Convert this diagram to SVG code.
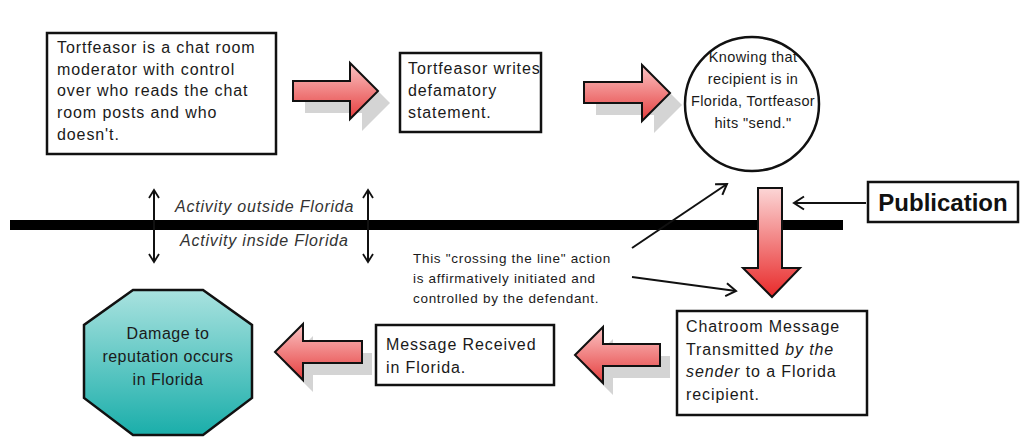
<svg xmlns="http://www.w3.org/2000/svg" width="1029" height="445" viewBox="0 0 1029 445">
<defs>
<linearGradient id="red" x1="0" y1="0" x2="0" y2="1">
<stop offset="0" stop-color="#fbc4c4"/>
<stop offset="1" stop-color="#e53e3e"/>
</linearGradient>
<linearGradient id="redv" x1="0" y1="0" x2="0" y2="1">
<stop offset="0" stop-color="#fcd6d6"/>
<stop offset="1" stop-color="#e82a2a"/>
</linearGradient>
<linearGradient id="teal" x1="0" y1="0" x2="0" y2="1">
<stop offset="0" stop-color="#a9e2df"/>
<stop offset="1" stop-color="#1aaeaa"/>
</linearGradient>
<marker id="head" viewBox="0 0 14 16" refX="12" refY="8" markerWidth="14" markerHeight="16" markerUnits="userSpaceOnUse" orient="auto-start-reverse">
<path d="M2,1.5 L12,8 L2,14.5" fill="none" stroke="#111" stroke-width="2"/>
</marker>
<marker id="headS" viewBox="0 0 12 12" refX="10" refY="6" markerWidth="12" markerHeight="12" markerUnits="userSpaceOnUse" orient="auto-start-reverse">
<path d="M2,1 L10,6 L2,11" fill="none" stroke="#111" stroke-width="1.8"/>
</marker>
</defs>
<style>
.box{fill:#fff;stroke:#111;stroke-width:2.5}
.t{font-family:"Liberation Sans",Arial,sans-serif;font-size:16px;fill:#1a1a1a;letter-spacing:0.9px}
.c{text-anchor:middle}
.it{font-family:"Liberation Sans",Arial,sans-serif;font-size:16px;font-style:italic;fill:#333;letter-spacing:0.8px}
.sm{font-family:"Liberation Sans",Arial,sans-serif;font-size:13.5px;fill:#1a1a1a;letter-spacing:0.7px}
.arr{fill:url(#red);stroke:#111;stroke-width:2;stroke-linejoin:miter}
.shadow{fill:#d4d4d4}
.ln{fill:none;stroke:#111;stroke-width:2}
</style>
<rect width="1029" height="445" fill="#fff"/>

<g id="boundary">
<rect x="10" y="220" width="833" height="10" fill="#000"/>
</g>

<g id="node-moderator">
<rect class="box" x="47" y="33" width="229" height="121"/>
<text class="t" x="57" y="53">Tortfeasor is a chat room</text>
<text class="t" x="57" y="75">moderator with control</text>
<text class="t" x="57" y="96">over who reads the chat</text>
<text class="t" x="57" y="118">room posts and who</text>
<text class="t" x="57" y="140">doesn't.</text>
</g>

<g id="node-writes">
<rect class="box" x="400" y="53" width="141" height="79"/>
<text class="t" x="408" y="74">Tortfeasor writes</text>
<text class="t" x="408" y="96">defamatory</text>
<text class="t" x="408" y="118">statement.</text>
</g>

<g id="node-send">
<circle cx="752" cy="104" r="67" fill="#fff" stroke="#111" stroke-width="2.5"/>
<text class="t c" x="753" y="62" style="font-size:14.5px;letter-spacing:0.4px">Knowing that</text>
<text class="t c" x="753" y="84" style="font-size:14.5px;letter-spacing:0.4px">recipient is in</text>
<text class="t c" x="753" y="106" style="font-size:14.5px;letter-spacing:0.4px">Florida, Tortfeasor</text>
<text class="t c" x="753" y="128" style="font-size:14.5px;letter-spacing:0.4px">hits "send."</text>
</g>

<g id="node-publication">
<rect class="box" x="868" y="182" width="150" height="40"/>
<text x="943" y="211" text-anchor="middle" style="font-family:'Liberation Sans',Arial,sans-serif;font-size:24px;font-weight:bold;fill:#111">Publication</text>
</g>

<g id="node-transmitted">
<rect class="box" x="677" y="311" width="190" height="104"/>
<text class="t" x="686" y="332">Chatroom Message</text>
<text class="t" x="686" y="355">Transmitted <tspan font-style="italic">by the</tspan></text>
<text class="t" x="686" y="377"><tspan font-style="italic">sender</tspan> to a Florida</text>
<text class="t" x="686" y="400">recipient.</text>
</g>

<g id="node-received">
<rect class="box" x="376" y="325" width="178" height="60"/>
<text class="t" x="386" y="350">Message Received</text>
<text class="t" x="386" y="373">in Florida.</text>
</g>

<g id="node-damage">
<polygon points="133,290 203,290 252,325 252,398 203,435 133,435 84,398 84,325" fill="url(#teal)" stroke="#111" stroke-width="2.5"/>
<text class="t c" x="168" y="339" style="letter-spacing:0.5px">Damage to</text>
<text class="t c" x="168" y="362" style="letter-spacing:0.5px">reputation occurs</text>
<text class="t c" x="168" y="385" style="letter-spacing:0.5px">in Florida</text>
</g>

<g id="labels">
<text class="it" x="175" y="212">Activity outside Florida</text>
<text class="it" x="180" y="246">Activity inside Florida</text>
<text class="sm" x="413" y="263">This "crossing the line" action</text>
<text class="sm" x="413" y="283">is affirmatively initiated and</text>
<text class="sm" x="413" y="303">controlled by the defendant.</text>
</g>

<g id="connectors">
<path class="shadow" d="M305,93 H362 V75 L390,103 L362,131 V113 H305 Z"/>
<path class="arr" d="M293,81 H350 V63 L378,91 L350,119 V101 H293 Z"/>
<path class="shadow" d="M596,94 H654 V77 L682,105 L654,133 V115 H596 Z"/>
<path class="arr" d="M584,82 H642 V65 L670,93 L642,121 V103 H584 Z"/>
<path class="shadow" d="M585,367 L613,339 V356 H670 V378 H613 V395 Z"/>
<path class="arr" d="M575,355 L603,327 V344 H660 V366 H603 V383 Z"/>
<path class="shadow" d="M285,364 L313,336 V353 H372 V375 H313 V392 Z"/>
<path class="arr" d="M275,352 L303,324 V341 H362 V363 H303 V380 Z"/>
<path d="M758,188 H782 V268 H800 L772,297 L743,268 H758 Z" fill="url(#redv)" stroke="#111" stroke-width="2"/>
<line class="ln" x1="866" y1="203" x2="794" y2="203" marker-end="url(#head)"/>
<line class="ln" x1="154" y1="190" x2="154" y2="262" marker-start="url(#headS)" marker-end="url(#headS)"/>
<line class="ln" x1="368" y1="190" x2="368" y2="262" marker-start="url(#headS)" marker-end="url(#headS)"/>
<line class="ln" x1="632" y1="248" x2="727" y2="184" marker-end="url(#head)"/>
<line class="ln" x1="632" y1="277" x2="736" y2="291" marker-end="url(#head)"/>
</g>
</svg>
